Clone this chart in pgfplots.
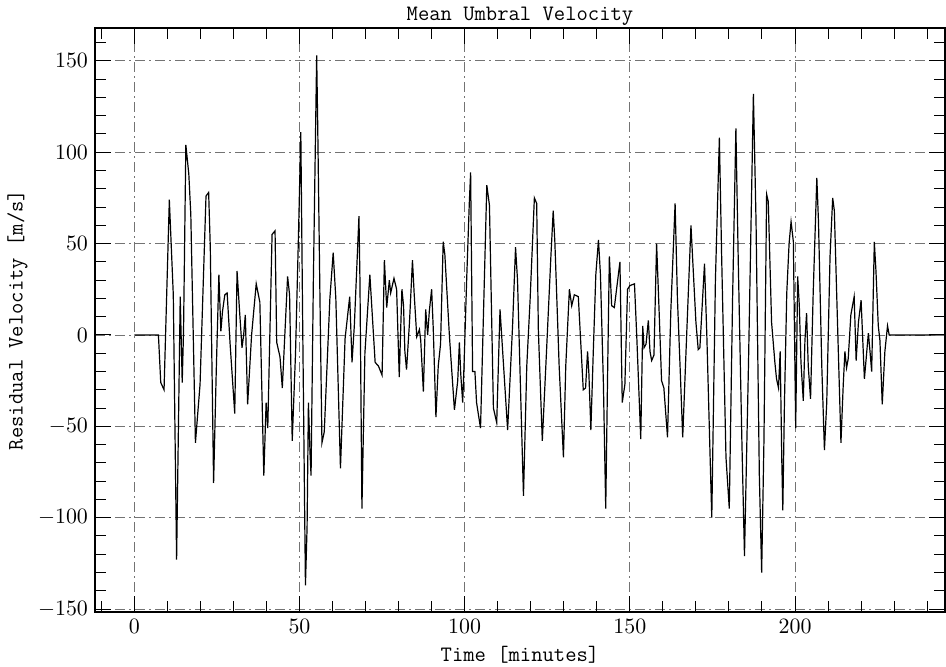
\documentclass[border=0pt]{standalone}
\usepackage{pgfplots}
\pgfplotsset{compat=1.18}

\begin{document}
\begin{tikzpicture}
\path[use as bounding box] (-47.5pt,-27.5pt) rectangle (425.5pt,306pt);
\begin{axis}[
  at={(0,0)}, anchor=south west,
  scale only axis,
  width=425pt, height=292pt,
  xmin=-11.9, xmax=245.4,
  ymin=-151.6, ymax=168,
  xtick={0,50,...,200},
  minor xtick={-10,0,...,240},
  ytick={-150,-100,...,150},
  minor ytick={-150,-140,...,160},
  tick align=inside,
  major tick length=8pt,
  minor tick length=5.5pt,
  every tick/.style={black, line width=0.5pt},
  axis line style={line width=0.6pt},
  grid=major,
  major grid style={black!55, line width=0.4pt, dash pattern=on 5pt off 2pt on 1pt off 2pt},
  tick label style={font=\fontsize{10.5}{12}\selectfont},
  title={Mean Umbral Velocity},
  title style={font=\ttfamily\fontsize{11}{13}\selectfont, at={(axis description cs:0.5,1)}, anchor=base, yshift=-2.5pt},
  xlabel={Time [minutes]},
  xlabel style={font=\ttfamily\fontsize{11}{13}\selectfont, at={(axis description cs:0.5,-0.0736)}, anchor=center},
  ylabel={Residual Velocity [m/s]},
  ylabel style={font=\ttfamily\fontsize{11}{13}\selectfont, at={(axis description cs:-0.0912,0.5)}, anchor=center},
]

% residual velocity
\addplot[black, line width=0.6pt, mark=none] table {
t v
0 0
7.3 0
8.0 -26
9.0 -30
10.6 74
11.8 22
12.8 -123
13.9 21
14.5 -26
14.9 2
15.6 104
16.5 88
17.1 66
18.5 -59
19.9 -27
21.7 76
22.5 78
23.0 48
24.0 -81
24.8 -20
25.6 33
26.2 2
26.7 13
27.4 22
28.1 23
29.0 -5
30.4 -43
31.1 35
31.9 12
32.6 -7
33.1 0
33.6 11
34.3 -38
35.5 0
36.9 28
38.0 18
39.2 -77
39.9 -37
40.4 -51
41.7 55
42.6 57
43.1 -4
44.1 -12
44.8 -29
46.4 32
47.0 22
47.8 -58
48.8 -10
49.7 55
50.4 111
51.0 0
51.8 -137
52.3 -105
52.7 -37
53.2 -65
53.5 -77
54.2 30
55.2 153
55.5 117
56.2 20
56.8 -59
57.5 -53
59.2 20
60.2 45
61.0 20
62.4 -73
63.8 -2
65.2 21
65.9 -15
66.6 5
68.0 65
68.3 30
68.9 -95
69.8 -10
71.3 33
71.9 15
72.9 -15
73.9 -17
75.0 -22
75.7 41
76.4 15
77.2 30
77.6 23
78.6 31
79.4 25
80.2 -23
81.0 25
81.5 16
81.9 -9
82.4 -19
83.3 7
84.2 41
84.7 23
85.5 -1
86.3 3
86.7 -3
87.5 -31
88.2 14
88.8 0
89.3 13
90.0 25
90.5 3
91.3 -45
92.0 -17
92.7 -5
93.5 51
94.0 44
95.4 -1
96.9 -41
97.9 -25
98.4 -4
98.8 -21
99.4 -37
99.8 -17
100.6 30
101.4 72
101.8 89
102.4 -20
103.1 -20
103.6 -37
104.8 -51
106.7 82
107.5 71
108.7 -40
109.7 -48
110.7 14
112.2 -29
113.0 -52
114.5 5
115.4 48
116.0 30
116.5 -3
117.8 -88
118.8 -17
119.8 19
121.1 75
121.8 72
122.3 3
123.5 -58
124.8 -8
126.1 43
126.8 68
127.3 51
128.6 -17
129.9 -67
130.6 -17
131.7 25
132.4 16
133.2 22
134.4 21
135.4 -13
135.9 -30
136.6 -29
137.2 -9
137.6 -21
138.2 -52
138.9 -11
139.7 33
140.5 52
141.1 33
142.0 -27
142.7 -95
143.3 -17
143.8 43
144.5 16
145.3 15
147.0 40
147.7 -37
148.5 -27
149.3 25
150.0 27
151.4 28
152.1 -1
153.3 -57
153.9 5
154.3 -7
154.9 -5
155.6 8
156.1 -9
156.6 -14
157.3 -11
158.1 50
158.9 11
159.6 -25
160.3 -29
161.4 -56
162.4 13
163.7 72
164.4 20
165.2 -17
166.0 -56
167.2 0
168.5 60
169.2 35
170.0 7
170.7 -8
171.2 -7
172.6 39
173.3 0
174.3 -67
174.8 -100
175.9 30
177.1 108
177.8 42
179.1 -67
180.1 -95
181.1 20
182.1 113
182.8 42
183.9 -57
184.7 -121
185.9 -17
187.4 132
188.2 62
189.2 -77
189.9 -130
190.6 -57
191.4 77
191.9 73
192.9 7
193.9 -15
194.4 -24
195.0 -29
195.5 -9
196.0 -69
196.3 -96
196.8 -37
197.5 23
198.2 50
198.8 62
199.5 51
200.2 -51
200.8 32
201.3 16
201.8 -15
202.5 -36
203.0 -3
203.5 12
204.0 -17
204.7 -35
205.5 23
206.6 86
207.1 62
208.1 -17
208.9 -63
209.6 -37
210.6 43
211.4 75
211.9 68
212.6 23
213.9 -59
214.6 -27
215.1 -9
215.6 -18
216.1 -13
216.9 11
217.9 21
218.5 -14
219.2 7
220.0 19
221.0 -24
222.2 1
222.6 -7
223.2 -20
224.0 51
224.5 35
225.2 5
225.7 -3
226.4 -38
227.2 -9
228.0 5
228.5 0
242.4 0
};

\end{axis}
\end{tikzpicture}
\end{document}
